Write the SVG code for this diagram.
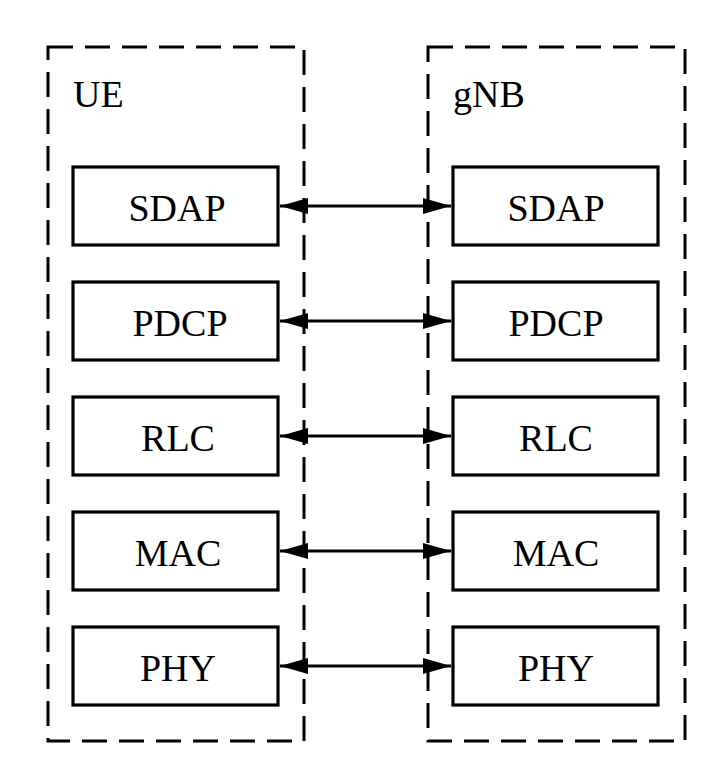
<svg xmlns="http://www.w3.org/2000/svg" width="717" height="769" viewBox="0 0 717 769">
<style>
.grp{fill:none;stroke:#000;stroke-width:3;stroke-dasharray:25 12}
.box{fill:#fff;stroke:#000;stroke-width:3.2}
.t{font-family:"Liberation Serif",serif;font-size:38px;fill:#000}
.c{text-anchor:middle}
.ln{stroke:#000;stroke-width:3;fill:none;marker-start:url(#ah);marker-end:url(#ah)}
</style>
<defs>
<marker id="ah" viewBox="0 0 28 16" refX="28" refY="8" markerWidth="28" markerHeight="16" markerUnits="userSpaceOnUse" orient="auto-start-reverse">
<path d="M0,0 L28,8 L0,16 Z" fill="#000"/>
</marker>
</defs>
<rect width="717" height="769" fill="#fff"/>
<g id="ue">
<rect class="grp" x="48" y="47" width="256" height="694"/>
<text class="t" x="73" y="107">UE</text>
</g>
<g id="gnb">
<rect class="grp" x="428" y="47" width="257" height="694"/>
<text class="t" x="453" y="107">gNB</text>
</g>
<g id="ue-sdap"><rect class="box" x="73" y="167" width="205" height="78"/><text class="t c" x="177" y="221">SDAP</text></g>
<g id="ue-pdcp"><rect class="box" x="73" y="282" width="205" height="78"/><text class="t c" x="180" y="336">PDCP</text></g>
<g id="ue-rlc"><rect class="box" x="73" y="397" width="205" height="78"/><text class="t c" x="178" y="451">RLC</text></g>
<g id="ue-mac"><rect class="box" x="73" y="512" width="205" height="78"/><text class="t c" x="178" y="566">MAC</text></g>
<g id="ue-phy"><rect class="box" x="73" y="627" width="205" height="78"/><text class="t c" x="178" y="681">PHY</text></g>
<g id="gnb-sdap"><rect class="box" x="453" y="167" width="205" height="78"/><text class="t c" x="556" y="221">SDAP</text></g>
<g id="gnb-pdcp"><rect class="box" x="453" y="282" width="205" height="78"/><text class="t c" x="556" y="336">PDCP</text></g>
<g id="gnb-rlc"><rect class="box" x="453" y="397" width="205" height="78"/><text class="t c" x="556" y="451">RLC</text></g>
<g id="gnb-mac"><rect class="box" x="453" y="512" width="205" height="78"/><text class="t c" x="556" y="566">MAC</text></g>
<g id="gnb-phy"><rect class="box" x="453" y="627" width="205" height="78"/><text class="t c" x="556" y="681">PHY</text></g>
<g id="connectors">
<line class="ln" x1="280" y1="206" x2="451" y2="206"/>
<line class="ln" x1="280" y1="321" x2="451" y2="321"/>
<line class="ln" x1="280" y1="436" x2="451" y2="436"/>
<line class="ln" x1="280" y1="551" x2="451" y2="551"/>
<line class="ln" x1="280" y1="666" x2="451" y2="666"/>
</g>
</svg>
